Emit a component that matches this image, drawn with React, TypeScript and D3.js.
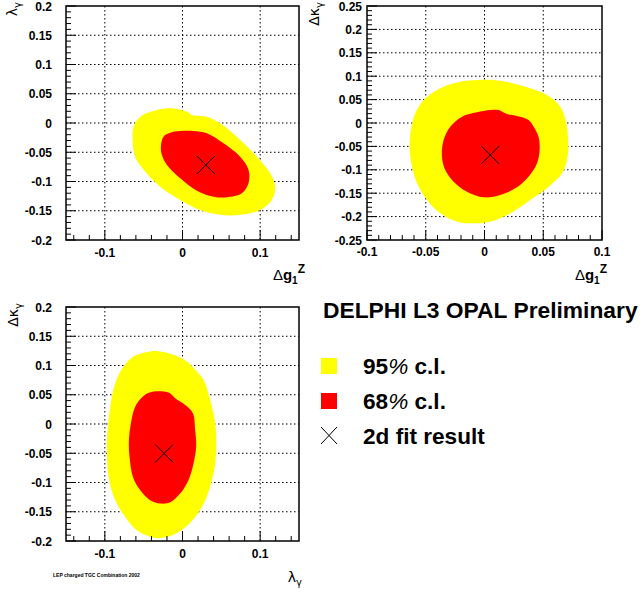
import * as d3 from "d3";

// ---- data: confidence contours ----
// panel 1: lambda_gamma vs delta g1Z
const p1Yellow: [number, number][] = [
  [-0.0643, -0.029], [-0.063, -0.0063], [-0.0544, 0.0108], [-0.033, 0.0222],
  [-0.0116, 0.025], [0.0057, 0.0193], [0.012, 0.0137], [0.0314, 0.0108],
  [0.0485, -0.0005], [0.0743, -0.029], [0.0957, -0.0576], [0.1129, -0.086],
  [0.1193, -0.109], [0.115, -0.1316], [0.1, -0.1487], [0.0743, -0.157],
  [0.0485, -0.157], [0.0228, -0.1487], [-0.003, -0.1316], [-0.0287, -0.109],
  [-0.05, -0.08], [-0.061, -0.0576],
];
const p1Red: [number, number][] = [
  [-0.0278, -0.0405], [-0.0245, -0.0234], [-0.0158, -0.0166], [-0.003, -0.0137],
  [0.0142, -0.0137], [0.0314, -0.0176], [0.0528, -0.0347], [0.0743, -0.0576],
  [0.085, -0.08], [0.085, -0.1031], [0.0764, -0.1202], [0.0571, -0.127],
  [0.04, -0.126], [0.0185, -0.1157], [-0.003, -0.0946], [-0.02, -0.0718],
  [-0.0265, -0.0547],
];
const p1Fit: [number, number] = [0.0301, -0.0718];

// panel 2: delta kappa_gamma vs delta g1Z
const p2Yellow: [number, number][] = [
  [-0.0064, 0.0919], [-0.0206, 0.0883], [-0.0348, 0.0776], [-0.0504, 0.0527],
  [-0.0589, 0.0207], [-0.0631, -0.022], [-0.0637, -0.0577], [-0.0617, -0.0933],
  [-0.0574, -0.1289], [-0.0489, -0.1645], [-0.0376, -0.193], [-0.0234, -0.2108],
  [-0.0093, -0.2144], [0.0049, -0.2108], [0.022, -0.193], [0.039, -0.1645],
  [0.0546, -0.136], [0.066, -0.1075], [0.0707, -0.072], [0.0711, -0.0363],
  [0.0696, -0.0007], [0.0645, 0.0349], [0.0532, 0.0598], [0.039, 0.0741],
  [0.022, 0.0862], [0.0077, 0.0919],
];
const p2Red: [number, number][] = [
  [0.0049, 0.0278], [-0.0064, 0.0228], [-0.0191, 0.0135], [-0.0291, -0.0079],
  [-0.0348, -0.0363], [-0.0362, -0.072], [-0.0334, -0.1004], [-0.0263, -0.1254],
  [-0.0149, -0.1468], [-0.0008, -0.1588], [0.0134, -0.1538], [0.0262, -0.1396],
  [0.0375, -0.1147], [0.0447, -0.0862], [0.0469, -0.0577], [0.046, -0.0292],
  [0.0418, -0.0079], [0.0375, 0.0064], [0.0277, 0.015], [0.0191, 0.0192],
  [0.012, 0.0278],
];
const p2Fit: [number, number] = [0.0049, -0.0684];

// panel 3: delta kappa_gamma vs lambda_gamma
const p3Yellow: [number, number][] = [
  [-0.0416, 0.124], [-0.0631, 0.1155], [-0.0759, 0.0983], [-0.0866, 0.0698],
  [-0.093, 0.0297], [-0.0965, -0.0103], [-0.0973, -0.0446], [-0.0952, -0.0904],
  [-0.0866, -0.1304], [-0.0737, -0.159], [-0.0587, -0.1818], [-0.0373, -0.1944],
  [-0.0201, -0.1933], [0.0013, -0.1789], [0.0163, -0.159], [0.0292, -0.1304],
  [0.0378, -0.096], [0.0421, -0.0674], [0.0434, -0.0331], [0.0421, 0.0012],
  [0.0356, 0.0412], [0.027, 0.0755], [0.0185, 0.0898], [0.0057, 0.1069],
  [-0.0116, 0.1184], [-0.0287, 0.124],
];
const p3Red: [number, number][] = [
  [-0.0373, 0.0554], [-0.0502, 0.048], [-0.0609, 0.0297], [-0.0664, 0.0012],
  [-0.069, -0.0274], [-0.0682, -0.056], [-0.0638, -0.0904], [-0.0544, -0.1132],
  [-0.0416, -0.1304], [-0.0287, -0.136], [-0.0158, -0.1338], [-0.003, -0.1189],
  [0.0077, -0.096], [0.0142, -0.0674], [0.0176, -0.0389], [0.0163, -0.0103],
  [0.0134, 0.0184], [0.0035, 0.0326], [-0.0094, 0.0441], [-0.018, 0.0537],
];
const p3Fit: [number, number] = [-0.0236, -0.0503];

// tick values
const wideXMajor = [-0.1, 0, 0.1];
const wideYMajor = [-0.2, -0.15, -0.1, -0.05, 0, 0.05, 0.1, 0.15, 0.2];
const p2XMajor = [-0.1, -0.05, 0, 0.05, 0.1];
const p2YMajor = [-0.25, -0.2, -0.15, -0.1, -0.05, 0, 0.05, 0.1, 0.15, 0.2, 0.25];

const legendLabels = ["95", "68"];
const legendColors = ["#ffff00", "#ff0000"];

const FONT = "'Liberation Sans', Arial, Helvetica, sans-serif";
const YELLOW = "#ffff00";
const RED = "#ff0000";

const fmt = (v: number) => String(Math.round(v * 100) / 100);

function minorTicks(domain: number[], step: number) {
  const out: number[] = [];
  const a = Math.ceil(domain[0] / step - 1e-6);
  const b = Math.floor(domain[1] / step + 1e-6);
  for (let i = a; i <= b; i++) out.push(+(i * step).toFixed(4));
  return out;
}

function Panel({ left, top, w, h, xDomain, yDomain, xMajor, yMajor, xMinor, yMinor,
  yellow, red, fit, labelGap, xLabelDy }: any) {
  const x = d3.scaleLinear(xDomain, [left, left + w]);
  const y = d3.scaleLinear(yDomain, [top + h, top]);
  const line = d3.line<[number, number]>()
    .x(d => x(d[0])).y(d => y(d[1]))
    .curve(d3.curveCatmullRomClosed.alpha(0.5));
  const inside = (v: number, dom: number[]) => v > dom[0] + 1e-6 && v < dom[1] - 1e-6;
  const fx = x(fit[0]), fy = y(fit[1]);
  return (
    <g>
      {/* grid */}
      {xMajor.filter((v: number) => inside(v, xDomain)).map((v: number) => (
        <line key={"gx" + v} x1={x(v)} x2={x(v)} y1={top} y2={top + h}
          stroke="#000" strokeWidth={1} strokeDasharray="1.5,2.5" />
      ))}
      {yMajor.filter((v: number) => inside(v, yDomain)).map((v: number) => (
        <line key={"gy" + v} x1={left} x2={left + w} y1={y(v)} y2={y(v)}
          stroke="#000" strokeWidth={1} strokeDasharray="1.5,2.5" />
      ))}
      <path d={line(yellow) || ""} fill={YELLOW} />
      <path d={line(red) || ""} fill={RED} />
      <line x1={fx - 9} x2={fx + 9} y1={fy - 9} y2={fy + 9} stroke="#000" strokeWidth={1} />
      <line x1={fx - 9} x2={fx + 9} y1={fy + 9} y2={fy - 9} stroke="#000" strokeWidth={1} />
      {/* ticks */}
      {minorTicks(xDomain, xMinor).map(v => {
        const major = xMajor.some((m: number) => Math.abs(m - v) < 1e-6);
        return <line key={"tx" + v} x1={x(v)} x2={x(v)} y1={top + h} y2={top + h - (major ? 10 : 5)}
          stroke="#000" strokeWidth={1} />;
      })}
      {minorTicks(yDomain, yMinor).map(v => {
        const major = yMajor.some((m: number) => Math.abs(m - v) < 1e-6);
        return <line key={"ty" + v} x1={left} x2={left + (major ? 10 : 5)} y1={y(v)} y2={y(v)}
          stroke="#000" strokeWidth={1} />;
      })}
      <rect x={left} y={top} width={w} height={h} fill="none" stroke="#000" strokeWidth={1.5} />
      {/* labels */}
      {xMajor.map((v: number) => (
        <text key={"lx" + v} x={x(v)} y={top + h + xLabelDy} textAnchor="middle"
          fontFamily={FONT} fontWeight="bold" fontSize={12}>{fmt(v)}</text>
      ))}
      {yMajor.map((v: number) => (
        <text key={"ly" + v} x={left - labelGap} y={y(v) + 4.5} textAnchor="end"
          fontFamily={FONT} fontWeight="bold" fontSize={12}>{fmt(v)}</text>
      ))}
    </g>
  );
}

function DeltaG1Z({ x, y }: { x: number; y: number }) {
  return (
    <text x={x} y={y} textAnchor="end" fontFamily={FONT} fontWeight="bold" fontSize={15}>
      <tspan fontWeight="normal">Δ</tspan>
      <tspan>g</tspan>
      <tspan dy={4} fontSize={10}>1</tspan>
      <tspan dy={-11} fontSize={12}>Z</tspan>
    </text>
  );
}

function GreekSub({ x, y, main, delta, rotate }: any) {
  return (
    <text transform={`translate(${x},${y})${rotate ? " rotate(-90)" : ""}`} textAnchor="end"
      fontFamily="'DejaVu Sans', sans-serif" fontSize={14}>
      {delta ? <tspan>Δ</tspan> : null}
      <tspan>{main}</tspan>
      <tspan dy={4} fontSize={10}>γ</tspan>
    </text>
  );
}

export default function App() {
  const legendY = [374, 409];
  return (
    <svg width={642} height={592} style={{ position: "absolute", left: 0, top: 0, background: "#fff" }}>
      <rect width={642} height={592} fill="#fff" />
      <Panel left={66} top={6} w={233} h={234} xDomain={[-0.15, 0.15]} yDomain={[-0.2, 0.2]}
        xMajor={wideXMajor} yMajor={wideYMajor} xMinor={0.02} yMinor={0.01}
        yellow={p1Yellow} red={p1Red} fit={p1Fit} labelGap={14} xLabelDy={17} />
      <Panel left={367} top={6} w={235} h={234} xDomain={[-0.1, 0.1]} yDomain={[-0.25, 0.25]}
        xMajor={p2XMajor} yMajor={p2YMajor} xMinor={0.01} yMinor={0.01}
        yellow={p2Yellow} red={p2Red} fit={p2Fit} labelGap={5} xLabelDy={16} />
      <Panel left={66} top={307} w={233} h={234} xDomain={[-0.15, 0.15]} yDomain={[-0.2, 0.2]}
        xMajor={wideXMajor} yMajor={wideYMajor} xMinor={0.02} yMinor={0.01}
        yellow={p3Yellow} red={p3Red} fit={p3Fit} labelGap={14} xLabelDy={17} />

      {/* axis titles */}
      <GreekSub x={17} y={2} main="λ" rotate />
      <DeltaG1Z x={305} y={280} />
      <GreekSub x={319} y={2} main="κ" delta rotate />
      <DeltaG1Z x={607} y={280} />
      <GreekSub x={18} y={303} main="κ" delta rotate />
      <GreekSub x={302} y={582} main="λ" />

      {/* legend */}
      <text x={323} y={318} fontFamily={FONT} fontWeight="bold" fontSize={22.8}>DELPHI L3 OPAL Preliminary</text>
      {legendLabels.map((l, i) => (
        <g key={l}>
          <rect x={321} y={legendY[i] - 16} width={16} height={16} fill={legendColors[i]} />
          <text x={363} y={legendY[i]} fontFamily={FONT} fontWeight="bold" fontSize={22.6}>
            {l}<tspan fontWeight="normal" fontStyle="italic">%</tspan> c.l.
          </text>
        </g>
      ))}
      <line x1={321} x2={337} y1={427} y2={444} stroke="#000" strokeWidth={1} />
      <line x1={321} x2={337} y1={444} y2={427} stroke="#000" strokeWidth={1} />
      <text x={363} y={444} fontFamily={FONT} fontWeight="bold" fontSize={22.6}>2d fit result</text>

      <text x={53} y={577} fontFamily={FONT} fontWeight="bold" fontSize={5}>LEP charged TGC Combination 2002</text>
    </svg>
  );
}
